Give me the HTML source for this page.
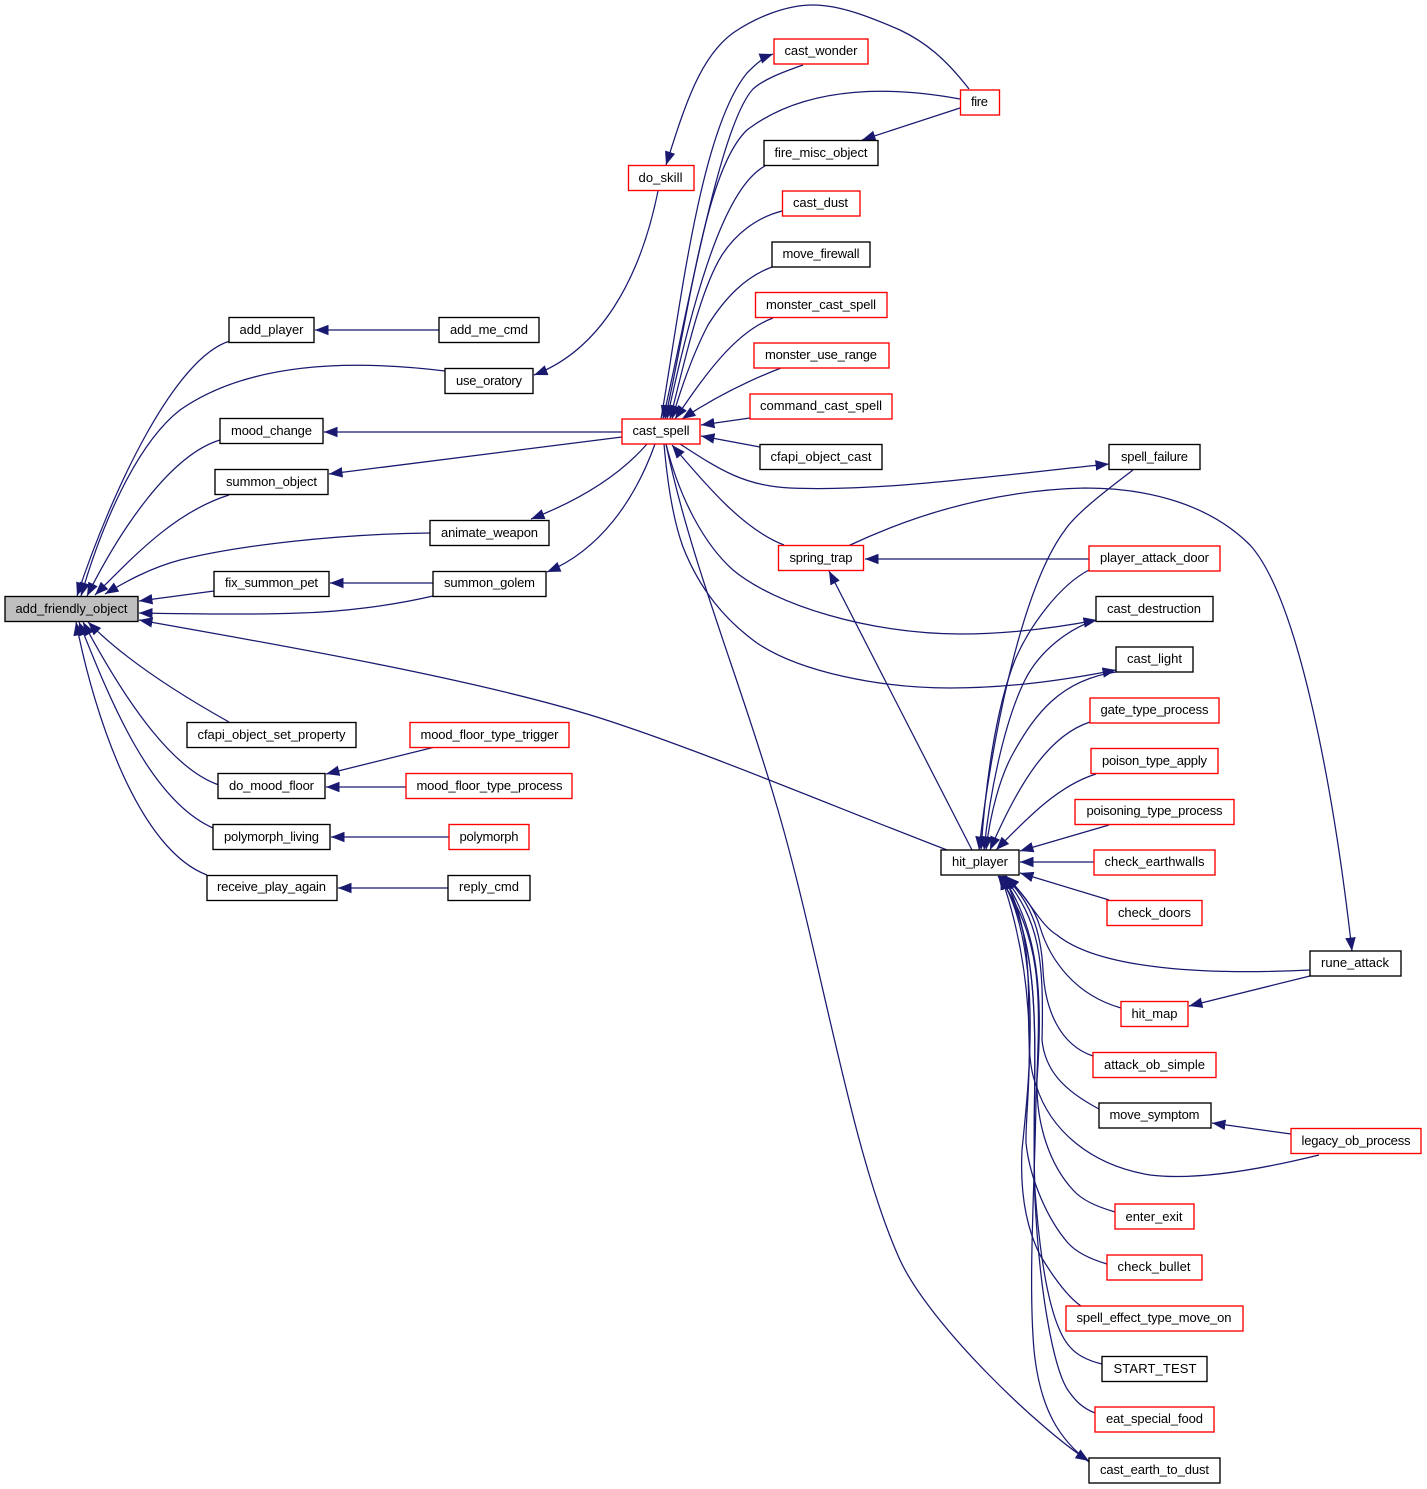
<!DOCTYPE html>
<html><head><meta charset="utf-8"><style>
html,body{margin:0;padding:0;background:#fff}
svg{display:block}
text{font-family:"Liberation Sans",sans-serif;font-size:13px;fill:#000;text-anchor:middle}
.e path{fill:none;stroke:#191970;stroke-width:1.25;marker-end:url(#a)}
.n rect{fill:#fff;stroke:#000;stroke-width:1.35}
.n rect.r{stroke:#f00}
.n rect.g{fill:#bfbfbf}
</style></head><body>
<svg width="1427" height="1489" viewBox="0 0 1427 1489" xmlns="http://www.w3.org/2000/svg">
<defs><marker id="a" markerUnits="userSpaceOnUse" markerWidth="14" markerHeight="10.5" viewBox="0 0 14 10.5" refX="13.5" refY="5.25" orient="auto"><path d="M0,0 L13.5,5.25 L0,10.5 Z" fill="#191970"/></marker></defs>
<g class="e">
<path d="M230,341 C175,357 112,490 77,596"/>
<path d="M445,371 C330,357 240,368 180,410 C135,445 100,530 81,596"/>
<path d="M220,440 C170,455 120,530 87,596"/>
<path d="M229,495 C175,512 135,555 95,595"/>
<path d="M430,533 C340,534 240,545 180,560 C150,568 125,582 105,594"/>
<path d="M214,591 L139,601"/>
<path d="M433,596 C390,606 340,612 300,613 C250,615 190,614 139,613"/>
<path d="M947,850 C830,805 700,750 600,718 C480,680 280,645 139,620"/>
<path d="M229,722 C195,703 130,665 88,622"/>
<path d="M219,785 C175,770 130,710 83,622"/>
<path d="M213,828 C150,800 110,700 79,622"/>
<path d="M207,875 C140,850 95,720 76,622"/>
<path d="M439,330 L315,330"/>
<path d="M433,583 L330,583"/>
<path d="M622,432 L324,432"/>
<path d="M622,437 L329,474"/>
<path d="M658,191 C640,280 600,350 534,375"/>
<path d="M647,444 C620,475 580,500 531,519"/>
<path d="M655,444 C635,500 600,550 547,572"/>
<path d="M435,747 L326,774"/>
<path d="M406,787 L326,787"/>
<path d="M449,837 L331,837"/>
<path d="M448,888 L338,888"/>
<path d="M969,89 C945,58 925,42 900,30 C870,17 840,5 813,5 C785,5 755,18 733,33 C700,57 685,105 666,165"/>
<path d="M661,419 C680,310 700,130 747,73 C755,65 762,58 773,54"/>
<path d="M803,65 C780,73 763,80 753,89 C720,125 690,300 663,419"/>
<path d="M960,99 C900,88 810,82 747,130 C705,170 690,310 665,419"/>
<path d="M960,108 L862,140"/>
<path d="M765,166 C730,185 700,265 667,419"/>
<path d="M782,211 C755,218 735,235 722,255 C700,290 685,360 670,419"/>
<path d="M772,267 C745,277 725,298 708,325 C695,350 682,385 672,419"/>
<path d="M773,318 C735,332 705,375 675,419"/>
<path d="M781,368 C750,380 715,397 682,419"/>
<path d="M750,418 L701,425"/>
<path d="M760,447 L701,436"/>
<path d="M680,444 C720,470 745,486 790,488 C880,492 1000,475 1109,464"/>
<path d="M848,546 C920,512 1000,490 1085,488 C1150,488 1210,505 1250,545 C1300,600 1335,800 1352,951"/>
<path d="M784,545 C745,530 710,490 672,445"/>
<path d="M1089,559 L865,559"/>
<path d="M972,850 L829,571"/>
<path d="M666,444 C680,500 705,545 733,570 C775,605 870,634 960,634 C1010,634 1055,628 1097,620"/>
<path d="M664,444 C668,490 675,525 683,547 C700,590 725,620 757,643 C800,672 880,688 950,688 C1010,688 1065,680 1116,670"/>
<path d="M666,444 C690,560 740,680 775,800 C820,950 850,1150 900,1260 C930,1325 1040,1430 1089,1461"/>
<path d="M1133,470 C1100,495 1075,515 1065,530 C1020,590 990,750 979,850"/>
<path d="M1089,570 C1060,585 1030,625 1015,660 C995,710 985,790 981,850"/>
<path d="M1096,620 C1070,628 1040,650 1025,680 C1005,720 990,790 984,850"/>
<path d="M1116,672 C1060,680 1035,715 1015,750 C1000,775 990,815 986,850"/>
<path d="M1090,722 C1050,735 1020,780 990,850"/>
<path d="M1096,774 C1060,785 1030,815 996,850"/>
<path d="M1109,825 L1020,851"/>
<path d="M1094,862 L1020,862"/>
<path d="M1109,900 L1020,873"/>
<path d="M1310,970 C1210,975 1100,970 1057,935 C1040,925 1030,900 1006,876"/>
<path d="M1121,1008 C1075,995 1050,960 1040,927 C1035,910 1025,895 1005,876"/>
<path d="M1310,976 L1189,1006"/>
<path d="M1291,1134 L1212,1123"/>
<path d="M1093,1056 C1060,1045 1045,1010 1043,970 C1041,930 1030,900 1004,876"/>
<path d="M1099,1109 C1063,1090 1045,1070 1042,1040 C1044,960 1040,920 1003,876"/>
<path d="M1319,1155 C1250,1172 1190,1180 1150,1175 C1090,1165 1050,1130 1036,1085 C1018,1040 1045,950 1003,876"/>
<path d="M1115,1212 C1095,1206 1082,1200 1073,1190 C1050,1165 1036,1125 1037,1080 C1043,1000 1040,930 1002,876"/>
<path d="M1107,1264 C1090,1259 1076,1252 1068,1243 C1048,1220 1030,1180 1026,1143 C1025,1100 1044,1000 1001,876"/>
<path d="M1081,1306 C1068,1297 1055,1280 1040,1255 C1025,1225 1020,1190 1022,1150 C1028,1090 1045,950 1000,876"/>
<path d="M1102,1364 C1085,1360 1076,1354 1070,1347 C1050,1325 1040,1260 1035,1190 C1030,1080 1050,950 999,876"/>
<path d="M1095,1413 C1082,1408 1075,1400 1070,1393 C1055,1375 1040,1300 1035,1200 C1030,1080 1050,950 999,876"/>
<path d="M1089,1462 C1060,1440 1040,1410 1034,1350 C1028,1280 1035,1180 1036,1100 C1040,1000 1045,940 998,876"/>
</g>
<g class="n">
<rect class="g" x="5" y="596.5" width="133" height="25"/><text x="71.5" y="613" textLength="112" lengthAdjust="spacingAndGlyphs">add_friendly_object</text>
<rect x="229" y="317.5" width="85" height="25"/><text x="271.5" y="334" textLength="64">add_player</text>
<rect x="439" y="317.5" width="100" height="25"/><text x="489" y="334" textLength="78">add_me_cmd</text>
<rect x="445" y="368.5" width="88" height="25"/><text x="489" y="385" textLength="66">use_oratory</text>
<rect x="220" y="418.5" width="103" height="25"/><text x="271.5" y="435" textLength="81">mood_change</text>
<rect x="215" y="469.5" width="113" height="25"/><text x="271.5" y="486" textLength="91">summon_object</text>
<rect x="430" y="520.5" width="119" height="25"/><text x="489.5" y="537" textLength="97">animate_weapon</text>
<rect x="214" y="571.5" width="115" height="25"/><text x="271.5" y="587" textLength="93">fix_summon_pet</text>
<rect x="433" y="571.5" width="113" height="25"/><text x="489.5" y="587" textLength="91">summon_golem</text>
<rect x="187" y="722.5" width="169" height="25"/><text x="271.5" y="739" textLength="148">cfapi_object_set_property</text>
<rect x="218" y="773.5" width="107" height="25"/><text x="271.5" y="790" textLength="85">do_mood_floor</text>
<rect class="r" x="410" y="722.5" width="159" height="25"/><text x="489.5" y="739" textLength="138">mood_floor_type_trigger</text>
<rect class="r" x="406" y="773.5" width="166" height="25"/><text x="489.5" y="790" textLength="146">mood_floor_type_process</text>
<rect x="213" y="824.5" width="117" height="25"/><text x="271.5" y="841" textLength="95">polymorph_living</text>
<rect class="r" x="449" y="824.5" width="80" height="25"/><text x="489" y="841" textLength="59">polymorph</text>
<rect x="207" y="875.5" width="130" height="25"/><text x="271.5" y="891" textLength="109">receive_play_again</text>
<rect x="448" y="875.5" width="82" height="25"/><text x="489" y="891" textLength="60">reply_cmd</text>
<rect class="r" x="628.5" y="165.5" width="65.5" height="25"/><text x="660.5" y="182" textLength="44">do_skill</text>
<rect class="r" x="622" y="419" width="78" height="25"/><text x="661" y="435" textLength="57">cast_spell</text>
<rect class="r" x="774" y="39" width="94" height="25"/><text x="821" y="55" textLength="73">cast_wonder</text>
<rect class="r" x="960.5" y="90" width="39" height="25"/><text x="979.5" y="106" textLength="17">fire</text>
<rect x="764" y="140.5" width="114" height="25"/><text x="821" y="157" textLength="93">fire_misc_object</text>
<rect class="r" x="782.5" y="191" width="77.5" height="25"/><text x="820.5" y="207" textLength="55">cast_dust</text>
<rect x="772" y="242" width="98" height="25"/><text x="821" y="258" textLength="77">move_firewall</text>
<rect class="r" x="755.5" y="292.5" width="131.5" height="25"/><text x="821" y="309" textLength="110">monster_cast_spell</text>
<rect class="r" x="754" y="343" width="135" height="25"/><text x="821" y="359" textLength="112">monster_use_range</text>
<rect class="r" x="750" y="394" width="142" height="25"/><text x="821" y="410" textLength="122">command_cast_spell</text>
<rect x="760" y="444.5" width="122" height="25"/><text x="821" y="461" textLength="101">cfapi_object_cast</text>
<rect class="r" x="778.5" y="545.5" width="85" height="25"/><text x="821" y="562" textLength="63">spring_trap</text>
<rect x="1109" y="444.5" width="91" height="25"/><text x="1154.5" y="461" textLength="67">spell_failure</text>
<rect class="r" x="1089" y="546" width="131" height="25"/><text x="1154.5" y="562" textLength="109">player_attack_door</text>
<rect x="1096" y="596.5" width="117" height="25"/><text x="1154" y="613" textLength="94">cast_destruction</text>
<rect x="1116" y="647" width="77" height="25"/><text x="1154.5" y="663" textLength="55">cast_light</text>
<rect class="r" x="1090" y="698" width="129" height="25"/><text x="1154.5" y="714" textLength="108">gate_type_process</text>
<rect class="r" x="1091" y="748.5" width="127" height="25"/><text x="1154.5" y="765" textLength="105">poison_type_apply</text>
<rect class="r" x="1075" y="799.5" width="159" height="25"/><text x="1154.5" y="815" textLength="136">poisoning_type_process</text>
<rect class="r" x="1094" y="850" width="121" height="25"/><text x="1154.5" y="866" textLength="100">check_earthwalls</text>
<rect x="941" y="850" width="78" height="25"/><text x="980" y="866" textLength="56">hit_player</text>
<rect class="r" x="1107" y="900.5" width="95" height="25"/><text x="1154.5" y="917" textLength="73">check_doors</text>
<rect x="1310" y="951" width="91" height="25"/><text x="1355" y="967" textLength="68">rune_attack</text>
<rect class="r" x="1121" y="1001.5" width="67" height="25"/><text x="1154.5" y="1018" textLength="46">hit_map</text>
<rect class="r" x="1093" y="1052.5" width="123" height="25"/><text x="1154.5" y="1069" textLength="101">attack_ob_simple</text>
<rect x="1099" y="1103" width="112" height="25"/><text x="1154.5" y="1119" textLength="90">move_symptom</text>
<rect class="r" x="1291" y="1128.5" width="130" height="25"/><text x="1356" y="1145" textLength="109">legacy_ob_process</text>
<rect class="r" x="1115" y="1204" width="79" height="25"/><text x="1154" y="1221" textLength="57">enter_exit</text>
<rect class="r" x="1107" y="1255" width="95" height="25"/><text x="1154" y="1271" textLength="73">check_bullet</text>
<rect class="r" x="1066" y="1306" width="177" height="25"/><text x="1154" y="1322" textLength="155">spell_effect_type_move_on</text>
<rect x="1102" y="1356.5" width="105" height="25"/><text x="1155" y="1373" textLength="83">START_TEST</text>
<rect class="r" x="1095" y="1407" width="119" height="25"/><text x="1154.5" y="1423" textLength="97">eat_special_food</text>
<rect x="1089" y="1458" width="131" height="25"/><text x="1154.5" y="1474" textLength="109">cast_earth_to_dust</text>
</g>
</svg>
</body></html>
